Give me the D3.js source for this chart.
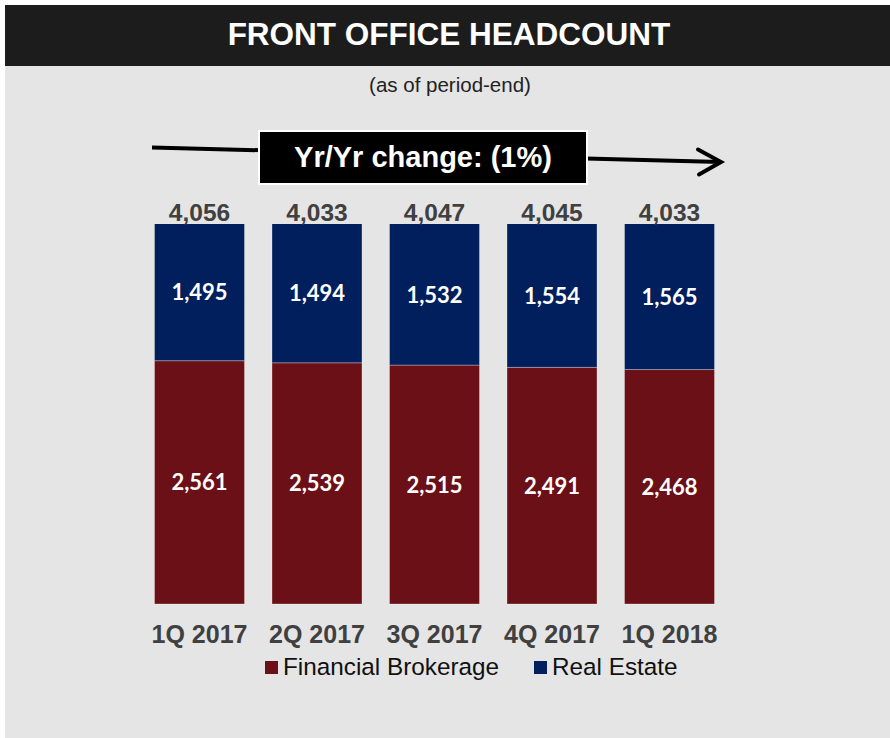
<!DOCTYPE html>
<html>
<head>
<meta charset="utf-8">
<script src="https://cdn.jsdelivr.net/npm/d3@7"></script>
<style>
  html, body { margin: 0; padding: 0; background: #ffffff; }
  svg { display: block; }
</style>
</head>
<body>
<svg id="chart" width="890" height="738"></svg>
<script>
const categories = ["1Q 2017", "2Q 2017", "3Q 2017", "4Q 2017", "1Q 2018"];
const financialBrokerage = [2561, 2539, 2515, 2491, 2468];
const realEstate = [1495, 1494, 1532, 1554, 1565];
const totals = [4056, 4033, 4047, 4045, 4033];
const seriesNames = ["Financial Brokerage", "Real Estate"];
const yTicks = [0, 4000];
const titleText = "FRONT OFFICE HEADCOUNT";
const subtitleText = "(as of period-end)";
const calloutText = "Yr/Yr change: (1%)";

const colors = { fin: "#6a1016", re: "#001f5c" };
const fmt = d3.format(",");

const svg = d3.select("#chart");

// background panel and title bar
svg.append("rect").attr("x", 5).attr("y", 5).attr("width", 885).attr("height", 733).attr("fill", "#e5e5e5");
svg.append("rect").attr("x", 5).attr("y", 5).attr("width", 885).attr("height", 61).attr("fill", "#1c1c1c");
svg.append("text").attr("x", 449).attr("y", 45).attr("text-anchor", "middle")
  .attr("font-family", "Liberation Sans, Arial, sans-serif").attr("font-weight", "bold")
  .attr("font-size", 31.5).attr("fill", "#ffffff").text(titleText);
svg.append("text").attr("x", 450).attr("y", 92).attr("text-anchor", "middle")
  .attr("font-family", "Liberation Sans, Arial, sans-serif")
  .attr("font-size", 20.5).attr("fill", "#222222").text(subtitleText);

// scales
const x = d3.scaleBand().domain(categories).range([140.75, 728.25]).paddingInner(0.234).paddingOuter(0.117);
const y = d3.scaleLinear().domain([yTicks[0], yTicks[1]]).range([604, 224]);

const defs = svg.append("defs");
defs.append("clipPath").attr("id", "plotClip").append("rect")
  .attr("x", 0).attr("y", y(yTicks[1])).attr("width", 890).attr("height", y(0) - y(yTicks[1]) + 2);

const data = categories.map((c, i) => ({ c, fin: financialBrokerage[i], re: realEstate[i], total: totals[i] }));
const stack = d3.stack().keys(["fin", "re"])(data);

const g = svg.append("g").attr("clip-path", "url(#plotClip)");
g.selectAll("g.series").data(stack).join("g").attr("class", "series")
  .attr("fill", d => colors[d.key])
  .selectAll("rect").data(d => d).join("rect")
  .attr("x", d => x(d.data.c))
  .attr("width", x.bandwidth())
  .attr("y", d => y(d[1]))
  .attr("height", d => y(d[0]) - y(d[1]))
  .attr("stroke", "rgba(255,255,255,0.3)").attr("stroke-width", 1);

// segment labels (centered in visible part)
const plotTop = y(yTicks[1]);
stack.forEach(s => {
  svg.selectAll(null).data(s).join("text")
    .attr("x", d => x(d.data.c) + x.bandwidth() / 2)
    .attr("y", d => (Math.max(y(d[1]), plotTop) + y(d[0])) / 2 + 8)
    .attr("text-anchor", "middle")
    .attr("font-family", "Lato, sans-serif").attr("font-weight", "bold")
    .attr("font-size", 22).attr("fill", "#ffffff")
    .text(d => fmt(d.data[s.key]));
});

// total labels
svg.selectAll(null).data(data).join("text")
  .attr("x", d => x(d.c) + x.bandwidth() / 2)
  .attr("y", plotTop - 3.5)
  .attr("text-anchor", "middle")
  .attr("font-family", "Liberation Sans, Arial, sans-serif").attr("font-weight", "bold")
  .attr("font-size", 24.5).attr("fill", "#404040")
  .text(d => fmt(d.total));

// x axis labels
const xAxis = svg.append("g").attr("transform", `translate(0,${y(0)})`)
  .call(d3.axisBottom(x).tickSize(0).tickPadding(0));
xAxis.select(".domain").remove();
xAxis.selectAll("text").attr("dy", 0).attr("y", 39)
  .attr("font-family", "Liberation Sans, Arial, sans-serif").attr("font-weight", "bold")
  .attr("font-size", 25).attr("fill", "#404040");

// arrow line behind callout
const ax0 = 152, ay0 = 147.5, ax1 = 721, ay1 = 162;
svg.append("line").attr("x1", ax0).attr("y1", ay0).attr("x2", ax1).attr("y2", ay1)
  .attr("stroke", "#000").attr("stroke-width", 4);
svg.append("path").attr("d", `M${ax1 - 23},${ay1 - 12.5} L${ax1},${ay1} L${ax1 - 22},${ay1 + 12.5}`)
  .attr("fill", "none").attr("stroke", "#000").attr("stroke-width", 4)
  .attr("stroke-linecap", "round").attr("stroke-linejoin", "miter");

// callout box
svg.append("rect").attr("x", 259).attr("y", 131).attr("width", 328).attr("height", 53)
  .attr("fill", "#000").attr("stroke", "#ffffff").attr("stroke-width", 2);
svg.append("text").attr("x", 423).attr("y", 167).attr("text-anchor", "middle")
  .attr("font-family", "Liberation Sans, Arial, sans-serif").attr("font-weight", "bold")
  .attr("font-size", 29).attr("fill", "#ffffff").text(calloutText);

// legend
const legendX = [265, 534];
const legendKeys = ["fin", "re"];
const lg = svg.selectAll("g.legend").data(seriesNames).join("g").attr("class", "legend")
  .attr("transform", (d, i) => `translate(${legendX[i]},661)`);
lg.append("rect").attr("width", 13).attr("height", 13).attr("fill", (d, i) => colors[legendKeys[i]]);
lg.append("text").attr("x", 18).attr("y", 13.5)
  .attr("font-family", "Liberation Sans, Arial, sans-serif")
  .attr("font-size", 24.3).attr("fill", "#111111").text(d => d);
</script>
</body>
</html>
